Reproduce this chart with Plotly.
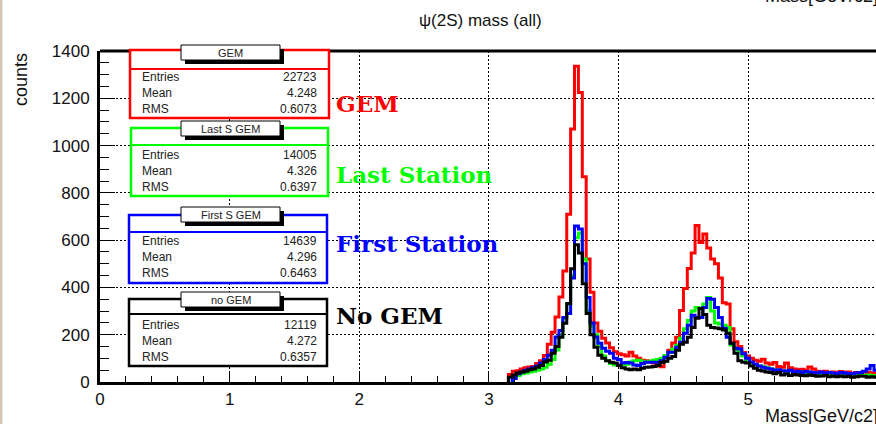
import numpy as np
import plotly.graph_objects as go

# ---------------- data (histograms, bin width 0.03 GeV) ----------------
first_edge = 3.09
bin_width = 0.03

gem = [0, 0, 32, 45, 48, 55, 60, 63, 66, 78,
       90, 112, 160, 210, 275, 360, 470, 710, 1070, 1335,
       1225, 868, 520, 380, 250, 215, 185, 165, 145, 128,
       120, 115, 110, 126, 110, 100, 92, 90, 85, 80,
       75, 65, 105, 134, 165, 189, 302, 395, 480, 546,
       662, 590, 626, 567, 520, 500, 440, 335, 330, 225,
       170, 150, 125, 110, 100, 92, 88, 96, 80, 75,
       82, 66, 62, 80, 60, 55, 52, 54, 50, 63,
       55, 45, 42, 45, 40, 42, 38, 44, 40, 42,
       36, 40, 38, 42, 40, 38, 36, 35]

last_s_gem = [0, 0, 0, 18, 28, 35, 38, 42, 45, 50,
              55, 62, 75, 95, 135, 195, 270, 330, 450, 610,
              630, 520, 300, 235, 200, 150, 110, 90, 78, 72,
              70, 72, 75, 85, 90, 92, 88, 85, 88, 92,
              95, 100, 112, 125, 140, 155, 185, 225, 260, 300,
              315, 310, 330, 357, 300, 250, 245, 240, 231, 156,
              140, 125, 110, 95, 80, 72, 68, 64, 60, 55,
              52, 50, 48, 45, 46, 42, 40, 42, 38, 40,
              36, 38, 35, 36, 34, 35, 32, 34, 30, 32,
              30, 32, 30, 28, 30, 28, 26, 28]

first_s_gem = [0, 0, 0, 15, 35, 42, 50, 55, 60, 68,
               80, 95, 113, 134, 190, 218, 273, 290, 440, 660,
               647, 500, 357, 250, 190, 164, 143, 130, 122, 100,
               95, 80, 82, 80, 72, 70, 78, 84, 84, 84,
               84, 90, 105, 126, 126, 147, 168, 206, 240, 282,
               273, 273, 315, 353, 350, 315, 273, 227, 189, 164,
               143, 140, 120, 100, 85, 75, 68, 62, 58, 55,
               50, 52, 48, 45, 50, 42, 45, 40, 44, 42,
               40, 38, 42, 36, 40, 38, 35, 40, 38, 36,
               35, 38, 40, 45, 55, 70, 50, 45]

no_gem = [0, 0, 20, 30, 38, 42, 45, 52, 55, 62,
          70, 85, 92, 122, 150, 189, 248, 332, 479, 580,
          546, 416, 290, 200, 147, 113, 100, 90, 84, 80,
          70, 60, 55, 52, 55, 52, 58, 62, 63, 66,
          70, 82, 88, 100, 108, 134, 160, 168, 189, 231,
          270, 311, 285, 240, 230, 228, 225, 220, 206, 164,
          122, 90, 84, 80, 68, 58, 50, 46, 42, 40,
          35, 40, 30, 34, 28, 32, 30, 28, 26, 30,
          28, 24, 25, 28, 22, 25, 22, 25, 22, 24,
          20, 22, 25, 24, 20, 22, 20, 20]

stat_titles = ["GEM", "Last S GEM", "First S GEM", "no GEM"]
stat_entries = ["22723", "14005", "14639", "12119"]
stat_means = ["4.248", "4.326", "4.296", "4.272"]
stat_rms = ["0.6073", "0.6397", "0.6463", "0.6357"]
big_labels = ["GEM", "Last Station", "First Station", "No GEM"]
colors = ["#ff0000", "#00ff00", "#0000ff", "#000000"]
series = [gem, last_s_gem, first_s_gem, no_gem]

# ---------------- layout geometry (pixels) ----------------
W, H = 876, 424
L, R, T, B = 100, 876, 51, 382
XMAX = (R - L) / 129.65


def px(x):
    return (x - L) / (R - L)


def py(y):
    return (B - y) / (B - T)


fig = go.Figure()

for vals, col in zip(series, colors):
    n = len(vals)
    edges = np.round(first_edge + bin_width * np.arange(n + 1), 4)
    k = next(i for i, v in enumerate(vals) if v > 0)  # first filled bin
    xs = [edges[k]] + list(edges[k:n]) + [edges[n]]
    ys = [0] + list(vals[k:]) + [vals[-1]]
    fig.add_trace(go.Scatter(x=xs, y=ys, mode="lines",
                             line=dict(color=col, width=3, shape="hv"),
                             showlegend=False, hoverinfo="skip"))

TICKFONT = dict(family="Liberation Sans, Arial, sans-serif", size=17, color="#111")
GRIDDASH = "2px,2px"

fig.update_xaxes(range=[0, XMAX], showgrid=True, gridcolor="black", griddash=GRIDDASH,
                 gridwidth=1, zeroline=False, showline=True, linecolor="black", linewidth=3,
                 ticks="inside", ticklen=11, tickwidth=1, tickcolor="black",
                 dtick=1, tick0=0, tickfont=TICKFONT,
                 minor=dict(dtick=0.2, ticks="inside", ticklen=6, tickcolor="black", showgrid=False))
fig.update_yaxes(range=[0, 1400], showgrid=True, gridcolor="black", griddash=GRIDDASH,
                 gridwidth=1, zeroline=False, showline=True, linecolor="black", linewidth=3,
                 ticks="inside", ticklen=15, tickwidth=1, tickcolor="black",
                 dtick=200, tick0=0, tickfont=TICKFONT, ticklabelstandoff=4,
                 minor=dict(dtick=50, ticks="inside", ticklen=9, tickcolor="black", showgrid=False))

shapes = []
annotations = []

# top frame line
shapes.append(dict(type="line", xref="paper", yref="paper", x0=0, x1=1.01, y0=1, y1=1,
                   line=dict(color="black", width=3)))
# left canvas border
shapes.append(dict(type="rect", xref="paper", yref="paper", x0=px(0), x1=px(2.5),
                   y0=py(H + 5), y1=py(-5), fillcolor="#d4c6b8", line=dict(width=0)))

# stat boxes
box_geo = [
    dict(x0=130, x1=329, top=50, sep=69, bottom=118, t0=45, t1=60, rows=[77, 93, 109]),
    dict(x0=131, x1=328, top=128, sep=145, bottom=196, t0=121, t1=136, rows=[155, 171, 187]),
    dict(x0=129, x1=327, top=215, sep=232, bottom=283, t0=207, t1=222, rows=[241, 257, 273]),
    dict(x0=129, x1=327, top=299, sep=314, bottom=366, t0=292, t1=307, rows=[325, 341, 357]),
]
label_y = [103, 174, 244, 315]
STATFONT = dict(family="Liberation Sans, Arial, sans-serif", size=12, color="#222")

for i, g in enumerate(box_geo):
    col = colors[i]
    shapes.append(dict(type="rect", xref="paper", yref="paper",
                       x0=px(g["x0"]), x1=px(g["x1"]), y0=py(g["bottom"]), y1=py(g["top"]),
                       fillcolor="white", line=dict(color=col, width=2.5)))
    shapes.append(dict(type="line", xref="paper", yref="paper",
                       x0=px(g["x0"]), x1=px(g["x1"]), y0=py(g["sep"]), y1=py(g["sep"]),
                       line=dict(color=col, width=2)))
    # title shadow + title box
    shapes.append(dict(type="rect", xref="paper", yref="paper",
                       x0=px(185), x1=px(284), y0=py(g["t1"] + 4), y1=py(g["t0"] + 4),
                       fillcolor="black", line=dict(width=0)))
    shapes.append(dict(type="rect", xref="paper", yref="paper",
                       x0=px(181), x1=px(280), y0=py(g["t1"]), y1=py(g["t0"]),
                       fillcolor="white", line=dict(color="black", width=1)))
    annotations.append(dict(xref="paper", yref="paper", x=px(230.5), y=py((g["t0"] + g["t1"]) / 2),
                            text=stat_titles[i], showarrow=False, xanchor="center", yanchor="middle",
                            font=dict(family="Liberation Sans, Arial, sans-serif", size=11, color="#222")))
    for r, (lab, val) in enumerate(zip(["Entries", "Mean", "RMS"],
                                       [stat_entries[i], stat_means[i], stat_rms[i]])):
        annotations.append(dict(xref="paper", yref="paper", x=px(140), y=py(g["rows"][r]),
                                text=lab, showarrow=False, xanchor="left", yanchor="middle",
                                font=STATFONT))
        annotations.append(dict(xref="paper", yref="paper", x=px(319), y=py(g["rows"][r]),
                                text=val, showarrow=False, xanchor="right", yanchor="middle",
                                font=STATFONT))
    annotations.append(dict(xref="paper", yref="paper", x=px(334), y=py(label_y[i]),
                            text="<b>%s</b>" % big_labels[i], showarrow=False,
                            xanchor="left", yanchor="middle",
                            font=dict(family="DejaVu Serif, serif", size=23, color=col)))

AXFONT = dict(family="Liberation Sans, Arial, sans-serif", size=18, color="#111")
# chart title
annotations.append(dict(xref="paper", yref="paper", x=px(480), y=py(20), text="ψ(2S) mass (all)",
                        showarrow=False, xanchor="center", yanchor="middle",
                        font=dict(family="Liberation Sans, Arial, sans-serif", size=17, color="#111")))
# y title
annotations.append(dict(xref="paper", yref="paper", x=px(21), y=py(80), text="counts",
                        showarrow=False, xanchor="center", yanchor="middle", textangle=-90,
                        font=AXFONT))
# x title (bottom) and the cut-off one at the top (both run off the canvas as in the original)
annotations.append(dict(xref="paper", yref="paper", x=px(763), y=py(416), text="Mass[GeV/c2]",
                        showarrow=False, xanchor="left", yanchor="middle", font=AXFONT))
annotations.append(dict(xref="paper", yref="paper", x=px(763), y=py(-4), text="Mass[GeV/c2]",
                        showarrow=False, xanchor="left", yanchor="middle", font=AXFONT))

fig.update_layout(width=W, height=H, margin=dict(l=L, r=W - R, t=T, b=H - B),
                  paper_bgcolor="white", plot_bgcolor="white",
                  shapes=shapes, annotations=annotations, showlegend=False)

fig.write_html("out.html")
